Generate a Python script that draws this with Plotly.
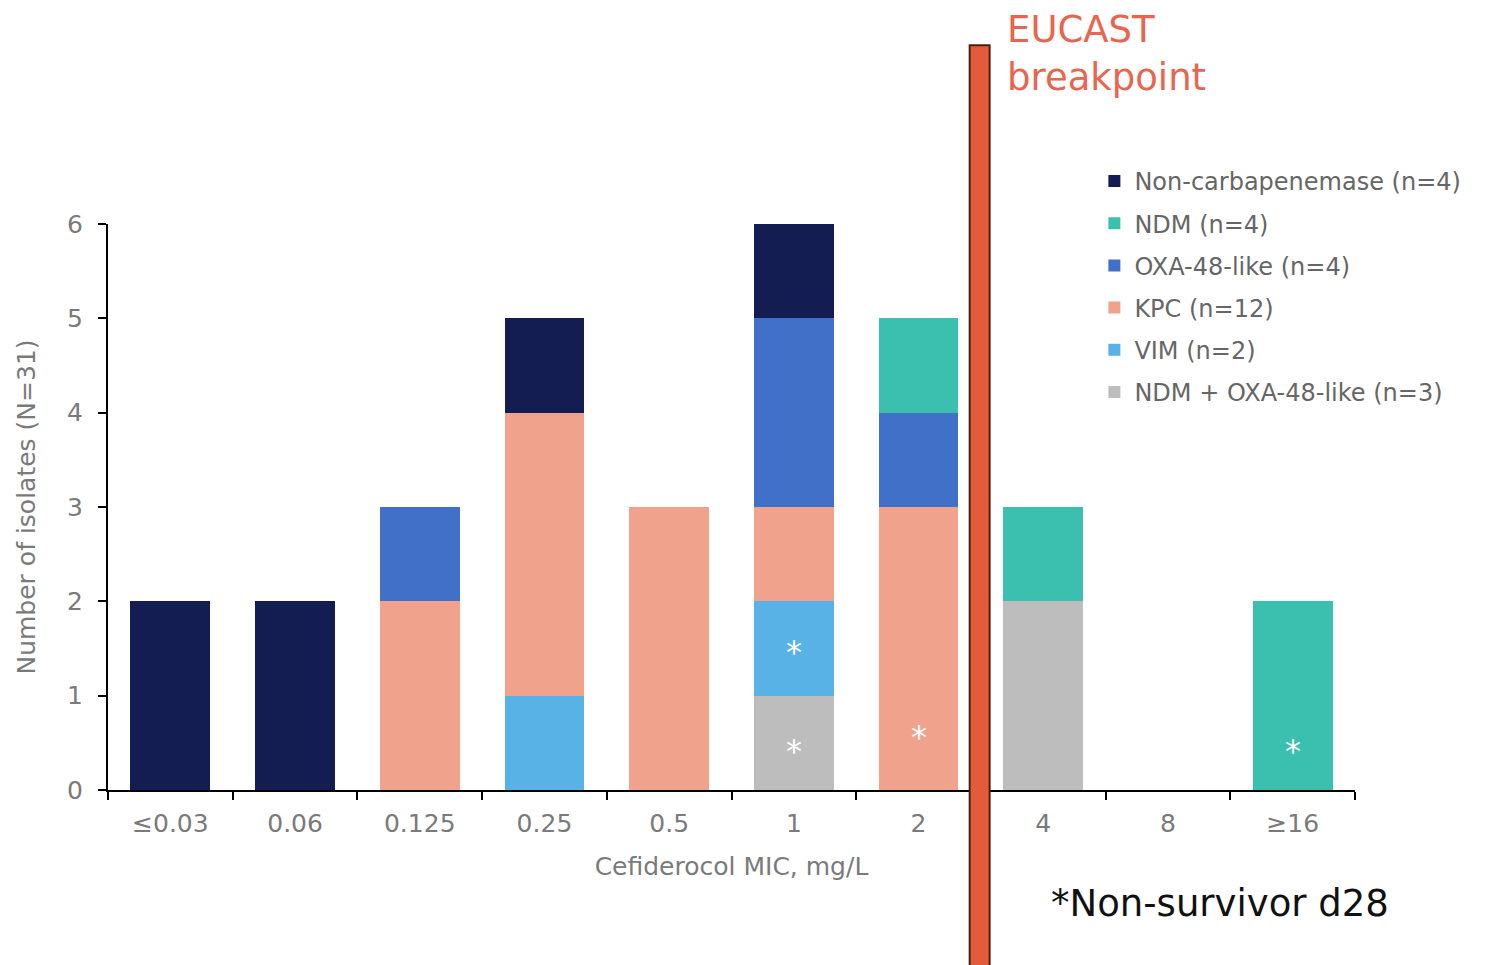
import plotly.graph_objects as go

categories = ["≤0.03", "0.06", "0.125", "0.25", "0.5", "1", "2", "4", "8", "≥16"]

# stacked bottom -> top
ndm_oxa = [0, 0, 0, 0, 0, 1, 0, 2, 0, 0]
vim = [0, 0, 0, 1, 0, 1, 0, 0, 0, 0]
kpc = [0, 0, 2, 3, 3, 1, 3, 0, 0, 0]
oxa48 = [0, 0, 1, 0, 0, 2, 1, 0, 0, 0]
ndm = [0, 0, 0, 0, 0, 0, 1, 1, 0, 2]
noncarb = [2, 2, 0, 1, 0, 1, 0, 0, 0, 0]

series = [
    ("NDM + OXA-48-like (n=3)", ndm_oxa, "#BDBDBD"),
    ("VIM (n=2)", vim, "#58B2E6"),
    ("KPC (n=12)", kpc, "#F0A28D"),
    ("OXA-48-like (n=4)", oxa48, "#4070C8"),
    ("NDM (n=4)", ndm, "#3BBFAE"),
    ("Non-carbapenemase (n=4)", noncarb, "#131D52"),
]

# non-survivor markers (category, y position)
star_cats = ["1", "1", "2", "≥16"]
star_y = [1.55, 0.5, 0.65, 0.5]

FONT = "DejaVu Sans"
GRAY = "#7a7a7a"

fig = go.Figure()
n = len(series)
for i, (name, vals, col) in enumerate(series):
    fig.add_trace(go.Bar(x=categories, y=vals, name=name, marker_color=col,
                         marker_line_width=0, width=0.64, legendgroup=f"g{i}",
                         legendrank=n - i))

for c, yv in zip(star_cats, star_y):
    fig.add_annotation(x=categories.index(c), y=yv, text="*", showarrow=False,
                       xref="x", yref="y",
                       font=dict(family=FONT, size=32, color="white"), yshift=-8)

# EUCAST breakpoint line
fig.add_shape(type="rect", xref="paper", yref="paper", x0=0.691, x1=0.707,
              y0=-0.32, y1=1.316, fillcolor="#E35B3A",
              line=dict(color="#4a2015", width=2), layer="above")

fig.add_annotation(xref="paper", yref="paper", x=0.719, y=1.385, xanchor="left", yanchor="top",
                   text="EUCAST<br>breakpoint", showarrow=False, align="left",
                   font=dict(family=FONT, size=37, color="#E8664E"))

fig.add_annotation(xref="paper", yref="paper", x=0.755, y=-0.2, xanchor="left", yanchor="middle",
                   text="*Non-survivor d28", showarrow=False,
                   font=dict(family=FONT, size=37, color="#111111"))

fig.update_layout(
    barmode="stack",
    width=1499, height=965,
    margin=dict(l=100, r=152, t=216, b=183),
    plot_bgcolor="white", paper_bgcolor="white",
    font=dict(family=FONT, size=24, color=GRAY),
    legend=dict(x=0.791, y=1.115, xanchor="left", yanchor="top",
                traceorder="grouped",
                font=dict(family=FONT, size=24, color="#666666"),
                itemwidth=30, bgcolor="rgba(0,0,0,0)", tracegroupgap=8),
    xaxis=dict(type="category", showline=True, linecolor="black", linewidth=2,
               ticks="outside", tickson="boundaries", ticklen=8, tickwidth=2, tickcolor="black",
               range=[-0.5, 9.5], ticklabelstandoff=10,
               title=dict(text="Cefiderocol MIC, mg/L", standoff=20,
                          font=dict(family=FONT, size=25, color=GRAY)),
               tickfont=dict(family=FONT, size=25, color=GRAY)),
    yaxis=dict(range=[0, 6], dtick=1, showline=True, linecolor="black", linewidth=2,
               ticks="outside", ticklen=8, tickwidth=2, tickcolor="black", showgrid=False,
               zeroline=False, ticklabelstandoff=10,
               title=dict(text="Number of isolates (N=31)", standoff=24,
                          font=dict(family=FONT, size=25, color=GRAY)),
               tickfont=dict(family=FONT, size=25, color=GRAY)),
)

fig.write_html("out.html")
